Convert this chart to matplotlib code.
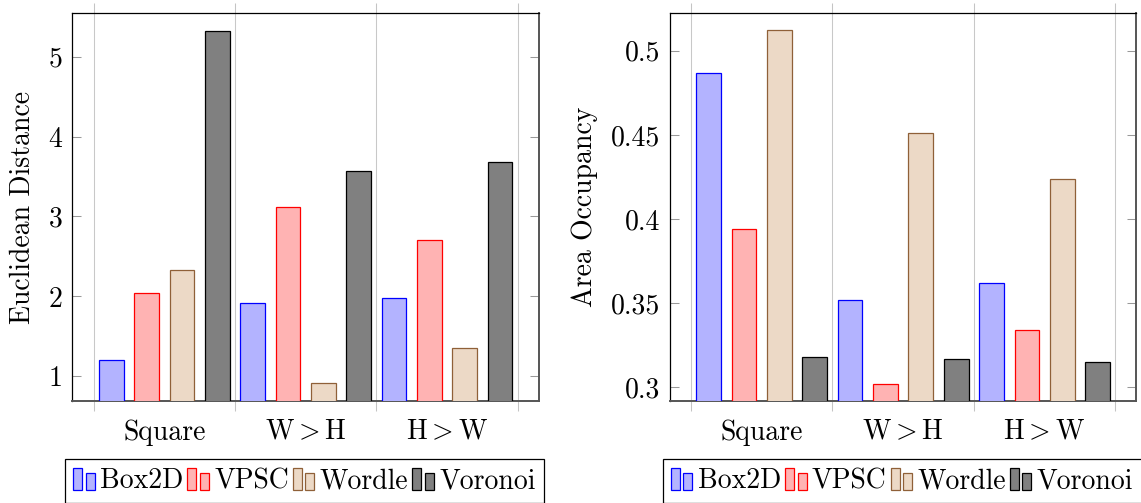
import matplotlib
matplotlib.use("Agg")
import matplotlib.pyplot as plt
from matplotlib.patches import Rectangle
from matplotlib.legend_handler import HandlerBase
import numpy as np

plt.rcParams['font.family'] = 'cmr10'
plt.rcParams['mathtext.fontset'] = 'cm'
plt.rcParams['axes.formatter.use_mathtext'] = True
plt.rcParams['font.size'] = 20

# Layout categories and methods
layouts = ['Square', 'W$>$H', 'H$>$W']
methods = ['Box2D', 'VPSC', 'Wordle', 'Voronoi']

# Euclidean distance per method (Square, W>H, H>W)
dist_box2d = [1.20, 1.92, 1.98]
dist_vpsc = [2.04, 3.12, 2.70]
dist_wordle = [2.33, 0.91, 1.35]
dist_voronoi = [5.32, 3.57, 3.68]

# Area occupancy per method (Square, W>H, H>W)
occ_box2d = [0.487, 0.352, 0.362]
occ_vpsc = [0.394, 0.302, 0.334]
occ_wordle = [0.512, 0.451, 0.424]
occ_voronoi = [0.318, 0.317, 0.315]

dist_ticks = [1, 2, 3, 4, 5]
dist_ticklabels = ['1', '2', '3', '4', '5']
occ_ticks = [0.30, 0.35, 0.40, 0.45, 0.50]
occ_ticklabels = ['0.3', '0.35', '0.4', '0.45', '0.5']

fills = ['#b3b3ff', '#ffb3b3', '#ecd9c6', '#808080']
edges = ['#0000ff', '#ff0000', '#8f6038', '#000000']

W, H = 1141, 503
fig = plt.figure(figsize=(W / 100, H / 100), dpi=100)


class PairedBarHandler(HandlerBase):
    """Legend key drawn as two small bars, the second one shorter."""

    def create_artists(self, legend, orig_handle, xdescent, ydescent,
                       width, height, fontsize, trans):
        fc = orig_handle.get_facecolor()
        ec = orig_handle.get_edgecolor()
        w = width * 0.42
        r1 = Rectangle((-xdescent, -ydescent), w, height,
                       facecolor=fc, edgecolor=ec, lw=0.9, transform=trans)
        r2 = Rectangle((-xdescent + width - w, -ydescent), w, height * 0.76,
                       facecolor=fc, edgecolor=ec, lw=0.9, transform=trans)
        return [r1, r2]


def draw_panel(rect, series, ylim, ticks, ticklabels, ylabel, legend_x):
    ax = fig.add_axes(rect)
    x = np.arange(len(layouts))
    n = len(series)
    pitch = 0.25
    handles = []
    for i, vals in enumerate(series):
        bars = ax.bar(x + (i - (n - 1) / 2) * pitch, vals, width=0.175,
                      color=fills[i], edgecolor=edges[i], linewidth=0.9,
                      zorder=3)
        handles.append(bars.patches[0])
    ax.set_xlim(-0.65, len(layouts) - 1 + 0.65)
    ax.set_ylim(*ylim)

    ax.set_xticks(x, layouts)
    ax.set_xticks(np.arange(len(layouts) + 1) - 0.5, minor=True)
    ax.tick_params(axis='x', which='major', length=0, pad=13)
    ax.tick_params(axis='x', which='minor', direction='out', length=7.2,
                   width=0.75, color='#c4c4c4', top=True, bottom=True)
    ax.grid(axis='x', which='minor', color='#c8c8c8', lw=0.75, zorder=0)
    ax.grid(axis='x', which='major', visible=False)
    ax.set_axisbelow(True)

    ax.set_yticks(ticks, ticklabels)
    ax.tick_params(axis='y', direction='in', length=6.5, width=0.75,
                   color='#999999', left=True, right=True, pad=7)
    ax.set_ylabel(ylabel, labelpad=9)

    for side in ['top', 'left']:
        ax.spines[side].set_color('black')
        ax.spines[side].set_linewidth(0.9)
    for side in ['bottom', 'right']:
        ax.spines[side].set_color('#555555')
        ax.spines[side].set_linewidth(1.4)

    leg = ax.legend(handles, methods, ncol=4, loc='upper left',
                    bbox_to_anchor=(legend_x / W, 1 - 459.3 / H),
                    bbox_transform=fig.transFigure, borderaxespad=0,
                    fancybox=False, edgecolor='black', framealpha=1,
                    handlelength=0.77, handleheight=0.84,
                    handletextpad=0.19, columnspacing=0.15, borderpad=0.3,
                    handler_map={Rectangle: PairedBarHandler()})
    leg.get_frame().set_linewidth(0.9)
    return ax


ax_w = 466.7 / W
ax_y0 = 1 - 401 / H
ax_h = (401 - 13.3) / H

draw_panel([72.3 / W, ax_y0, ax_w, ax_h],
           [dist_box2d, dist_vpsc, dist_wordle, dist_voronoi],
           (0.691, 5.5425), dist_ticks, dist_ticklabels,
           'Euclidean Distance', 65)
draw_panel([669.8 / W, ax_y0, ax_w, ax_h],
           [occ_box2d, occ_vpsc, occ_wordle, occ_voronoi],
           (0.2919, 0.5222), occ_ticks, occ_ticklabels,
           'Area Occupancy', 662.7)

fig.savefig('out.png', dpi=100)
